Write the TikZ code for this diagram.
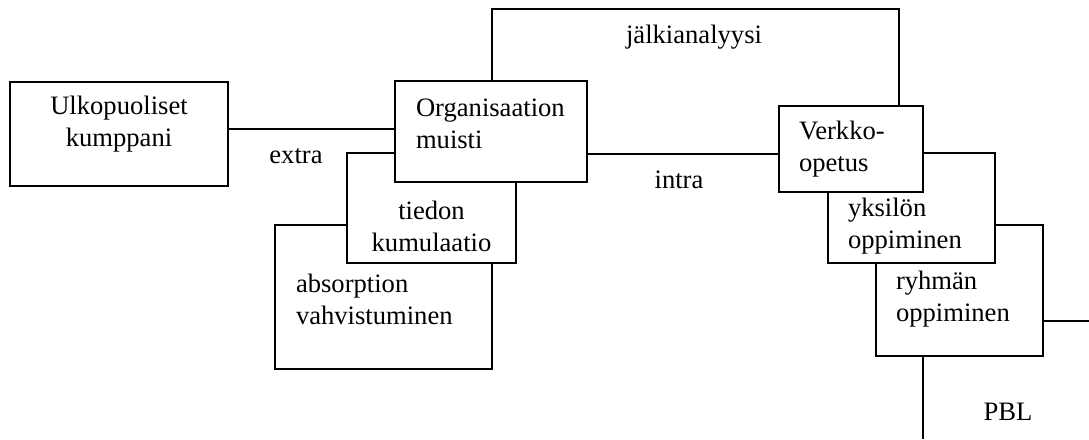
\documentclass[tikz,border=0pt]{standalone}
\usepackage{fontspec}
\setmainfont{Liberation Serif}
\usetikzlibrary{calc}
\tikzset{
  boxnode/.style={draw, fill=white, line width=1.8pt, inner sep=0pt, outer sep=0pt},
  txt/.style={inner sep=0pt, outer sep=0pt, font=\fontsize{26.6}{32}\selectfont},
  ltxt/.style={txt, align=left, anchor=west},
  ctxt/.style={txt, align=center},
  conn/.style={line width=1.8pt}
}
\begin{document}
\begin{tikzpicture}[x=1pt,y=-1pt]
\useasboundingbox (0,0) rectangle (1089,439);
% free ends
\coordinate (rightend) at (1089,321);
\coordinate (bottomend) at (923,439);
% boxes (back to front)
\node[boxnode, minimum width=218pt, minimum height=104pt] (ulk) at (119,134) {};
\node[boxnode, minimum width=217pt, minimum height=144pt] (abs) at (383.5,297) {};
\node[boxnode, minimum width=169pt, minimum height=110pt] (tie) at (431.5,208) {};
\node[boxnode, minimum width=192pt, minimum height=101pt] (org) at (491,131.5) {};
\node[boxnode, minimum width=167pt, minimum height=131pt] (ryh) at (959.5,290.5) {};
\node[boxnode, minimum width=167pt, minimum height=110pt] (yks) at (911.5,208) {};
\node[boxnode, minimum width=144pt, minimum height=86pt] (ver) at (851,149) {};
% connectors
\draw[conn] (ulk.east |- 0,129) -- (org.west |- 0,129);
\draw[conn] (org.east |- 0,154) -- (ver.west |- 0,154);
\draw[conn] ($(org.north west)+(97,0)$) |- ($(ver.north east)+(-24,-97)$) -- ($(ver.north east)+(-24,0)$);
\draw[conn] (ryh.east |- rightend) -- (rightend);
\draw[conn] (ryh.south -| bottomend) -- (bottomend);
% texts
\node[ctxt] (tulk) at (119,124) {Ulkopuoliset\\kumppani};
\node[ltxt] (torg) at (416,124) {Organisaation\\muisti};
\node[ctxt] (ttie) at (431.5,226) {tiedon\\kumulaatio};
\node[ltxt] (tabs) at (296,299) {absorption\\vahvistuminen};
\node[ltxt] (tver) at (799,149.5) {Verkko-\\opetus};
\node[ltxt] (tyks) at (848,226.5) {yksilön\\oppiminen};
\node[ltxt] (tryh) at (896,299) {ryhmän\\oppiminen};
\node[ctxt] (lextra) at (296,156) {extra};
\node[ctxt] (lintra) at (679,180) {intra};
\node[ctxt] (ljalki) at (694,37) {jälkianalyysi};
\node[ctxt] (lpbl) at (1008,412) {PBL};
\end{tikzpicture}
\end{document}
